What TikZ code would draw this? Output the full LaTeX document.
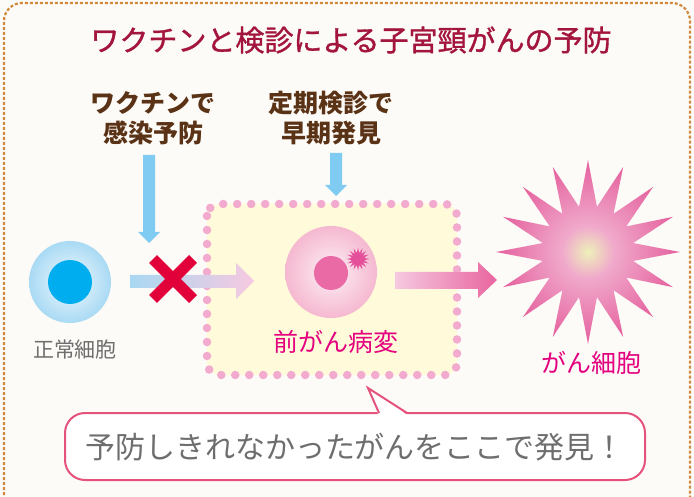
\documentclass[tikz,border=0pt]{standalone}
\usepackage{fontspec}
\newfontfamily\jp{Noto Sans CJK JP}
\newfontfamily\jpheavy[FakeBold=1.2]{Noto Sans CJK JP}
\usetikzlibrary{shapes.geometric,calc}

\definecolor{paper}{HTML}{FDFBF7}
\definecolor{frameorange}{HTML}{D08A3E}
\definecolor{titlered}{HTML}{A3153D}
\definecolor{labelbrown}{HTML}{5A3216}
\definecolor{skyarrow}{HTML}{7FCBF2}
\definecolor{cellring}{HTML}{A9DAF4}
\definecolor{cellcore}{HTML}{00ADEE}
\definecolor{textgray}{HTML}{6E6E6E}
\definecolor{crossred}{HTML}{E2003B}
\definecolor{arrowblue}{HTML}{A9D8F2}
\definecolor{arrowpink}{HTML}{F6C9E0}
\definecolor{dotpink}{HTML}{F2AACE}
\definecolor{boxyellow}{HTML}{FFFADA}
\definecolor{precell}{HTML}{F5B8D0}
\definecolor{precellin}{HTML}{FDF0F5}
\definecolor{nucleus}{HTML}{EA6AA6}
\definecolor{spot}{HTML}{E4509A}
\definecolor{magenta}{HTML}{E4007F}
\definecolor{arrowdeep}{HTML}{E8659F}
\definecolor{starcore}{HTML}{EEF0BA}
\definecolor{starmid}{HTML}{F0AACB}
\definecolor{staredge}{HTML}{E5609E}
\definecolor{bubbleline}{HTML}{E5527C}

\pgfdeclareradialshading{cancershade}{\pgfpoint{0bp}{0bp}}{%
  color(0bp)=(starcore); color(7bp)=(starmid); color(25bp)=(staredge); color(50bp)=(staredge)}

\tikzset{
  frame/.style={draw=frameorange, line width=2.2pt, dash pattern=on 3pt off 2pt},
  titletext/.style={font=\jpheavy\fontsize{29}{32}\selectfont, text=titlered},
  labeltext/.style={font=\jp\bfseries\fontsize{25}{30}\selectfont, text=labelbrown, align=center},
  graytext/.style={font=\jp\fontsize{21}{24}\selectfont, text=textgray},
  pinktext/.style={font=\jp\fontsize{25}{28}\selectfont, text=magenta},
  dotbox/.style={draw=dotpink, line width=8.5pt, line cap=round, dash pattern=on 0pt off 14pt, fill=boxyellow},
  bubble/.style={draw=bubbleline, line width=2pt, fill=white},
  bubbletext/.style={font=\jp\fontsize{30}{32}\selectfont, text=textgray},
}

\begin{document}
\begin{tikzpicture}[x=1pt,y=-1pt]
  % page and outer dashed frame
  \fill[paper] (0,0) rectangle (694,497);
  \useasboundingbox (0,0) rectangle (694,497);
  \begin{scope}
    \clip (0,0) rectangle (694,497);
    \draw[frame, rounded corners=18] (4,540) |- (690,3) -- (690,540);
  \end{scope}

  % heading and the two captions
  \node[titletext] (title) at (351,40) {ワクチンと検診による子宮頸がんの予防};
  \node[labeltext] (vaccine) at (153,118) {ワクチンで\\感染予防};
  \node[labeltext] (screen) at (331,118) {定期検診で\\早期発見};

  % downward arrows under the captions
  \fill[skyarrow] (143,155) -- (155,155) -- (155,232) -- (160,232) -- (149,243)
                  -- (138,232) -- (143,232) -- cycle;
  \fill[skyarrow] (330,153) -- (342,153) -- (342,185) -- (347,185) -- (336,196)
                  -- (325,185) -- (330,185) -- cycle;

  % normal cell
  \node[circle, minimum size=82pt, inner sep=0pt, inner color=white!85!cellring, outer color=cellring] (normal) at (70,282) {};
  \node[circle, minimum size=44pt, inner sep=0pt, fill=cellcore] (normalcore) at (normal.center) {};
  \node[graytext] (normallabel) at (75,350) {正常細胞};

  % stage box around the precancerous lesion
  \draw[dotbox, rounded corners=12] (207,204) rectangle (457,375);

  % arrow from the normal cell into the box
  \shade[left color=arrowblue, right color=arrowpink]
    (130,275) -- (236,275) -- (236,263) -- (254,281) -- (236,299) -- (236,288) -- (130,288) -- cycle;

  % blocked by the vaccine
  \draw[crossred, line width=11pt] (153,259) -- (193,299);
  \draw[crossred, line width=11pt] (193,259) -- (153,299);

  % precancerous cell
  \node[circle, minimum size=92pt, inner sep=0pt, inner color=precellin, outer color=precell] (pre) at (331,272) {};
  \node[circle, minimum size=34pt, inner sep=0pt, fill=nucleus] (prenucleus) at (331,273) {};
  \node[star, star points=16, star point ratio=1.9, minimum size=23pt, inner sep=0pt, fill=spot] (prespot) at (358,259) {};
  \node[pinktext] (prelabel) at (336,342) {前がん病変};

  % arrow towards the cancer cell
  \shade[left color=arrowpink, right color=arrowdeep]
    (395,272) -- (478,272) -- (478,262) -- (497,280) -- (478,298) -- (478,289) -- (395,289) -- cycle;

  % cancer cell
  \node[star, star points=16, star point ratio=2.0, minimum size=184pt, inner sep=0pt, shading=cancershade] (cancer) at (588,252) {};
  \node[pinktext] (cancerlabel) at (591,363) {がん細胞};

  % callout
  \draw[bubble, rounded corners=20] (65,413) rectangle (645,480);
  \fill[white] (378.5,415) -- (368,388) -- (407.5,415) -- cycle;
  \draw[draw=bubbleline, line width=2pt, line join=miter] (379,413) -- (368,388) -- (407,413);
  \node[bubbletext] (calloutlabel) at (355,447) {予防しきれなかったがんをここで発見！};
\end{tikzpicture}
\end{document}
